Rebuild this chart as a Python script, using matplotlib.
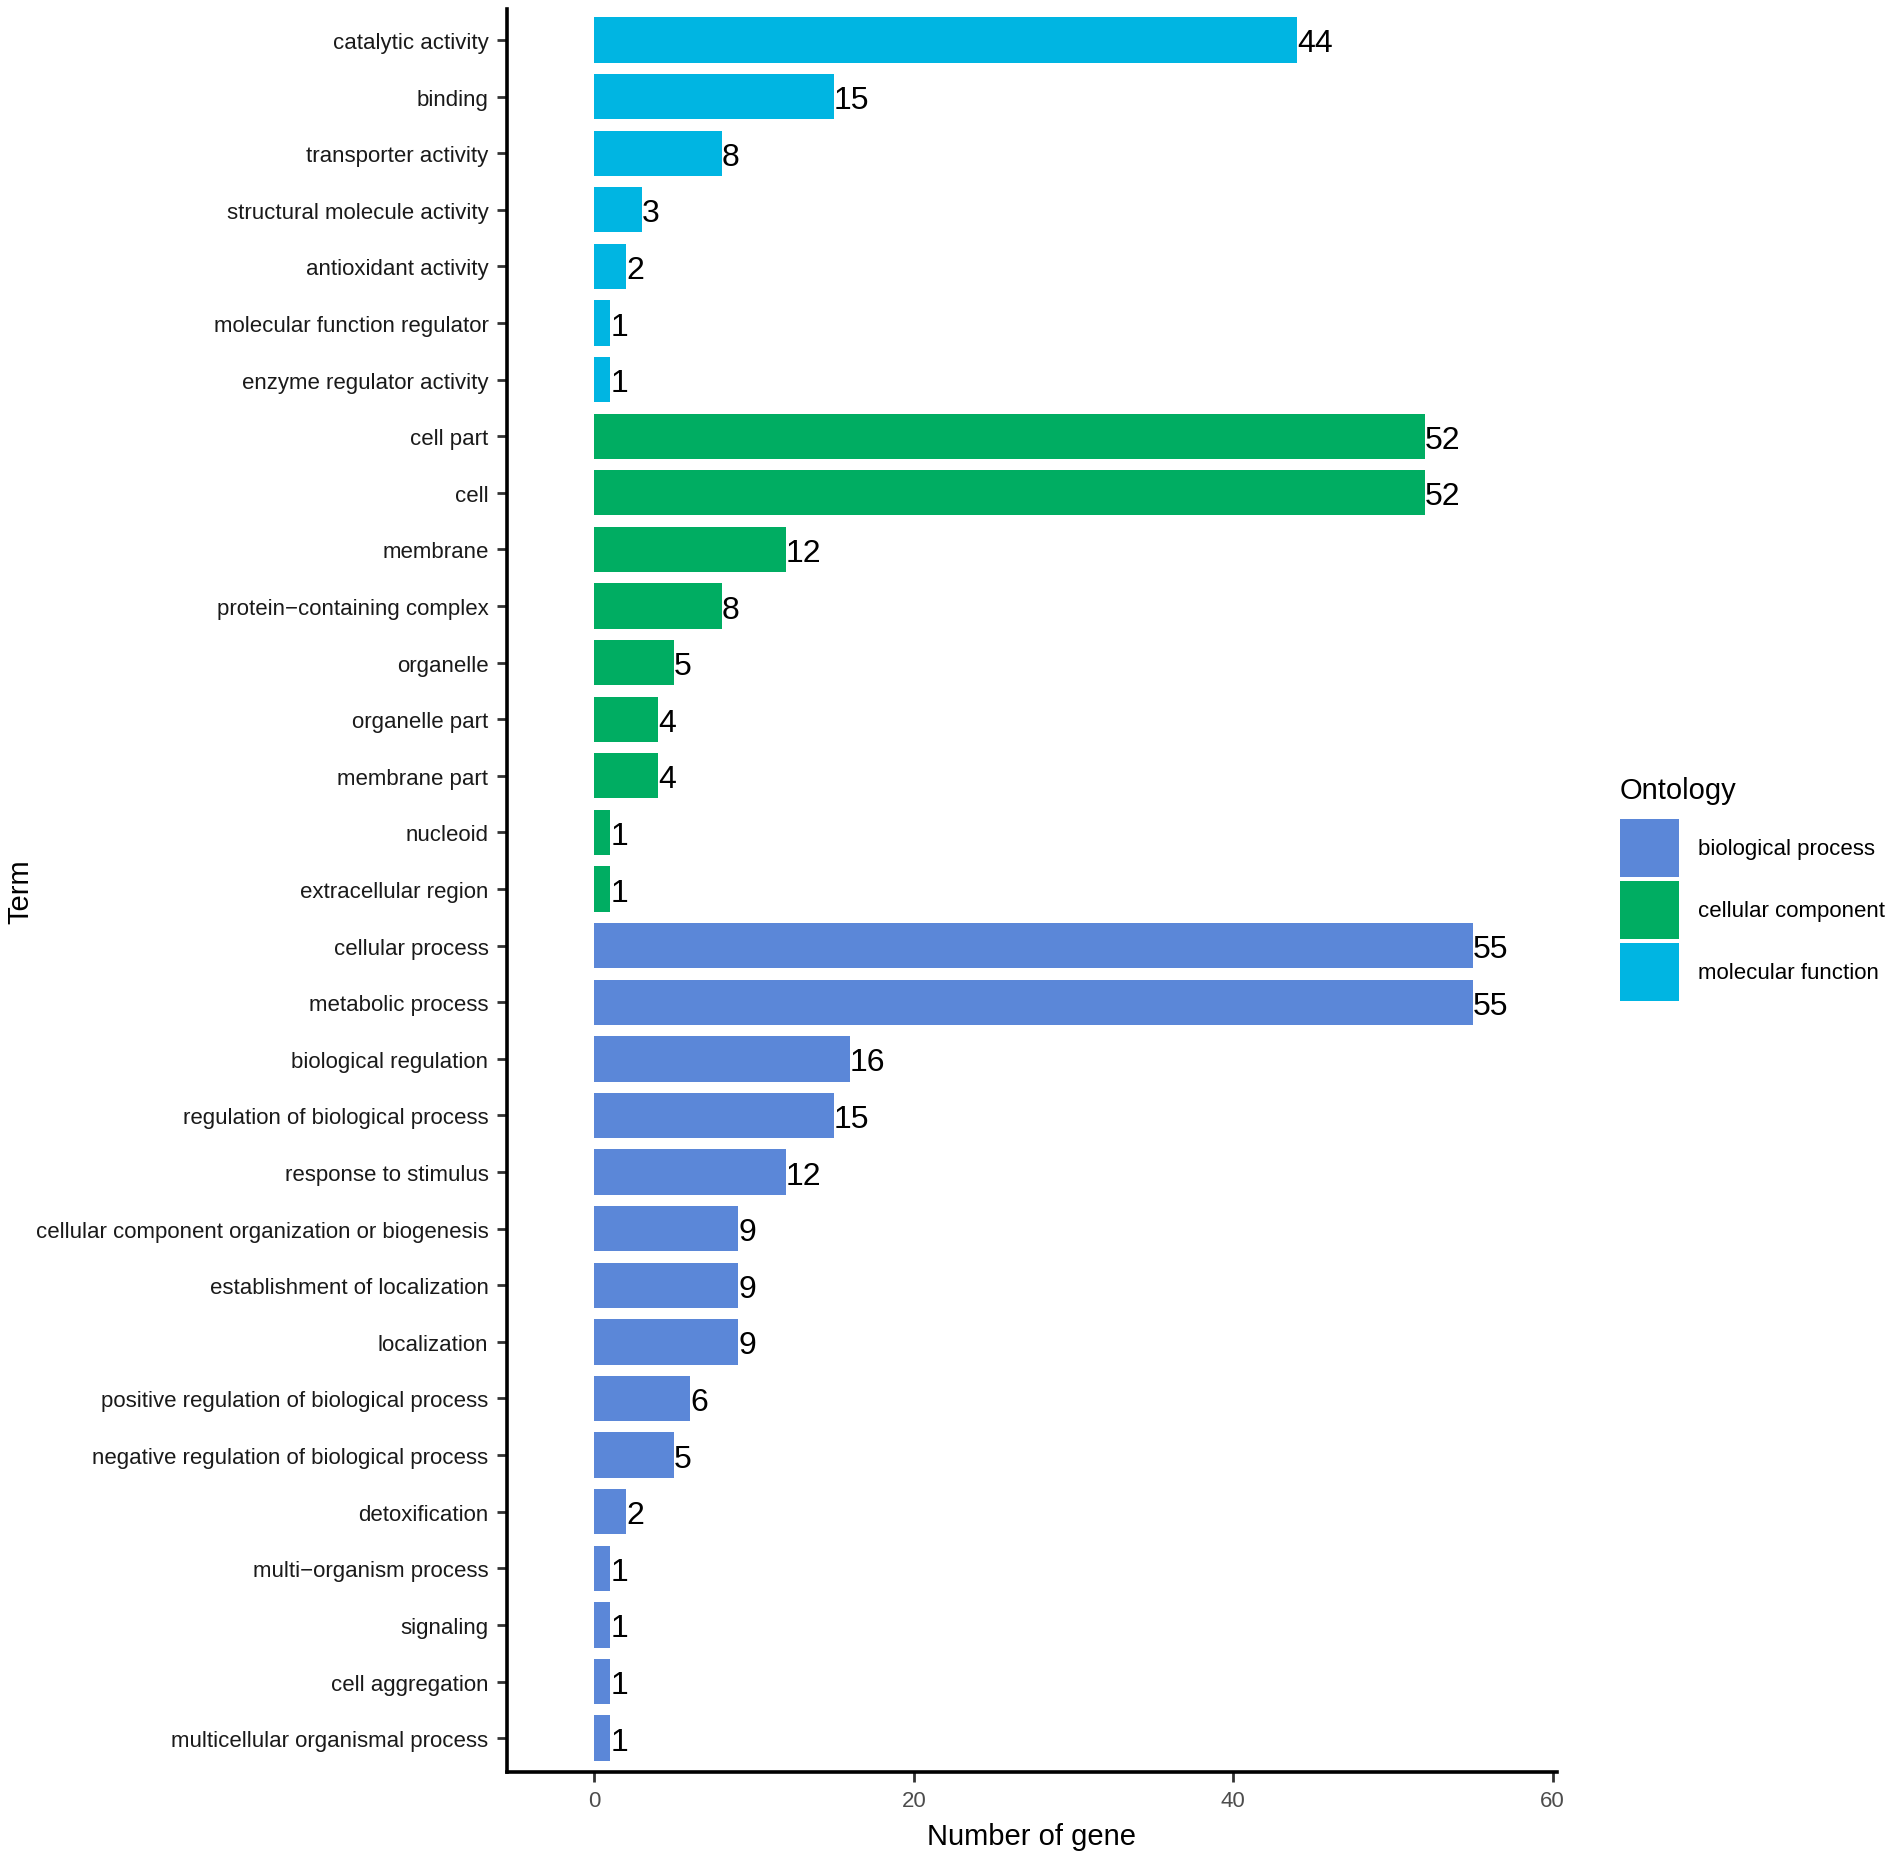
import matplotlib
matplotlib.use("Agg")
import matplotlib.pyplot as plt
from matplotlib.patches import Patch

plt.rcParams['font.family'] = ['Liberation Sans', 'DejaVu Sans']

terms = [
    "catalytic activity", "binding", "transporter activity", "structural molecule activity",
    "antioxidant activity", "molecular function regulator", "enzyme regulator activity",
    "cell part", "cell", "membrane", "protein\u2212containing complex", "organelle",
    "organelle part", "membrane part", "nucleoid", "extracellular region",
    "cellular process", "metabolic process", "biological regulation",
    "regulation of biological process", "response to stimulus",
    "cellular component organization or biogenesis", "establishment of localization",
    "localization", "positive regulation of biological process",
    "negative regulation of biological process", "detoxification",
    "multi\u2212organism process", "signaling", "cell aggregation",
    "multicellular organismal process",
]
counts = [44, 15, 8, 3, 2, 1, 1,
          52, 52, 12, 8, 5, 4, 4, 1, 1,
          55, 55, 16, 15, 12, 9, 9, 9, 6, 5, 2, 1, 1, 1, 1]
ontology = (["molecular function"] * 7 + ["cellular component"] * 9
            + ["biological process"] * 15)
ontology_levels = ["biological process", "cellular component", "molecular function"]
colors = {"biological process": "#5B87D8",
          "cellular component": "#00AD62",
          "molecular function": "#00B5E2"}

fig = plt.figure(figsize=(18.9, 18.58), dpi=100)
ax = fig.add_axes([0.268, 0.0457, 0.556, 0.949])

n = len(terms)
ypos = [n - 1 - i for i in range(n)]
ax.barh(ypos, counts, height=0.8, color=[colors[o] for o in ontology])
for y, c in zip(ypos, counts):
    ax.text(c, y, str(c), ha="left", va="center_baseline", fontsize=23, color="black")

ax.set_yticks(ypos)
ax.set_yticklabels(terms, fontsize=16, color="#1a1a1a")
ax.set_xticks([0, 20, 40, 60])
ax.set_xticklabels(["0", "20", "40", "60"], fontsize=16, color="#4d4d4d")
ax.set_xlim(-5.5, 60.3)
ax.set_ylim(-0.6, n - 0.45)

for s in ["top", "right"]:
    ax.spines[s].set_visible(False)
for s in ["left", "bottom"]:
    ax.spines[s].set_linewidth(2.6)
    ax.spines[s].set_color("black")
ax.tick_params(axis="both", length=7, width=2, color="#333333", pad=6)

ax.set_xlabel("Number of gene", fontsize=21, labelpad=8)
ax.set_ylabel("Term", fontsize=21)
ax.yaxis.set_label_coords(-0.449, 0.5, transform=ax.transAxes)

handles = [Patch(facecolor=colors[o], edgecolor="none", label=o) for o in ontology_levels]
leg = fig.legend(handles=handles, title="Ontology", loc="upper left",
                 bbox_to_anchor=(0.857, 0.582), frameon=False,
                 fontsize=16, title_fontsize=21, handlelength=2.65,
                 handleheight=3.62, labelspacing=0.2, handletextpad=0.85,
                 borderpad=0, borderaxespad=0)
leg._legend_box.align = "left"
leg._legend_box.sep = 11

fig.savefig("out.png", dpi=100)
